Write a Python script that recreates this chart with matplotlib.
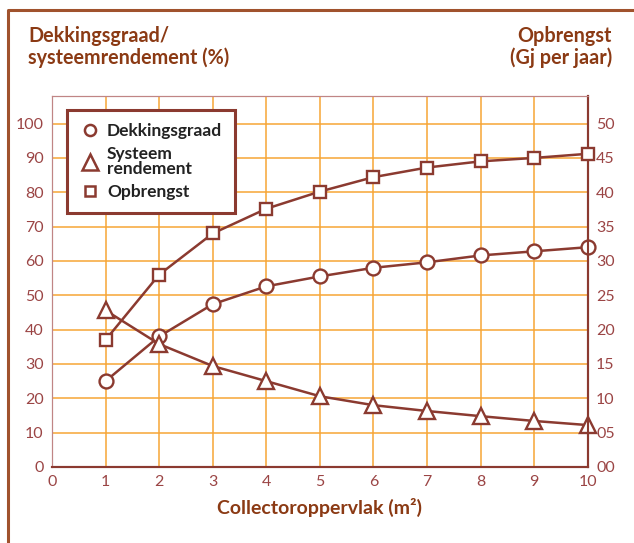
import matplotlib.pyplot as plt
from matplotlib.lines import Line2D

# data
oppervlak = [1, 2, 3, 4, 5, 6, 7, 8, 9, 10]
dekkingsgraad = [25, 38, 47.4, 52.6, 55.5, 58, 59.6, 61.6, 62.8, 64]
systeemrendement = [45.6, 35.8, 29.4, 25, 20.6, 18, 16.3, 14.8, 13.4, 12.2]
opbrengst = [18.5, 28, 34, 37.6, 40.1, 42.2, 43.6, 44.5, 45, 45.6]

left_ticks = [0, 10, 20, 30, 40, 50, 60, 70, 80, 90, 100]
right_ticks = [0, 5, 10, 15, 20, 25, 30, 35, 40, 45, 50]
right_labels = ['00', '05', '10', '15', '20', '25', '30', '35', '40', '45', '50']

line_col = '#8B3A30'
tick_col = '#9B4545'
title_col = '#8B3A14'
grid_col = '#F7A535'

plt.rcParams['font.family'] = ['Lato', 'DejaVu Sans']

fig = plt.figure(figsize=(6.34, 5.43), dpi=100)
ax = fig.add_axes([0.082, 0.140, 0.845, 0.683])
ax2 = ax.twinx()

ax.set_xlim(0, 10)
ax.set_ylim(0, 108)
ax2.set_ylim(0, 54)

# grid
for x in range(1, 10):
    ax.axvline(x, color=grid_col, lw=1.1, zorder=0)
for y in left_ticks[1:]:
    ax.axhline(y, color=grid_col, lw=1.1, zorder=0)

mk = dict(color=line_col, lw=1.8, markerfacecolor='white', markeredgecolor=line_col,
          markeredgewidth=1.7, markersize=10, clip_on=False)
ax.plot(oppervlak, dekkingsgraad, marker='o', zorder=3, **mk)
ax.plot(oppervlak, systeemrendement, marker='^', zorder=3, **{**mk, 'markersize': 11})
ax2.plot(oppervlak, opbrengst, marker='s', zorder=3, **{**mk, 'markersize': 9})

ax.set_xticks(range(0, 11))
ax.set_yticks(left_ticks)
ax2.set_yticks(right_ticks)
ax2.set_yticklabels(right_labels)
ax.tick_params(length=0, colors=tick_col, labelsize=11.5, pad=6)
ax2.tick_params(length=0, colors=tick_col, labelsize=11.5, pad=6)

for a in (ax, ax2):
    a.spines['left'].set_color('#C08585')
    a.spines['top'].set_color('#C08585')
    a.spines['bottom'].set_color(line_col)
    a.spines['right'].set_color(line_col)
    a.spines['bottom'].set_linewidth(1.5)
    a.spines['right'].set_linewidth(1.5)

ax.set_xlabel('Collectoroppervlak (m²)', fontsize=14, fontweight='bold',
              color=title_col, labelpad=6)

fig.text(0.044, 0.875, 'Dekkingsgraad/\nsysteemrendement (%)', fontsize=14.2,
         fontweight='bold', color=title_col, va='bottom', ha='left', linespacing=1.05)
fig.text(0.965, 0.875, 'Opbrengst\n(Gj per jaar)', fontsize=14.2,
         fontweight='bold', color=title_col, va='bottom', ha='right',
         multialignment='right', linespacing=1.05)

# legend
handles = [
    Line2D([], [], ls='none', marker='o', markerfacecolor='white', markeredgecolor=line_col,
           markeredgewidth=1.8, markersize=8),
    Line2D([], [], ls='none', marker='^', markerfacecolor='white', markeredgecolor=line_col,
           markeredgewidth=1.8, markersize=11),
    Line2D([], [], ls='none', marker='s', markerfacecolor='white', markeredgecolor=line_col,
           markeredgewidth=1.8, markersize=7),
]
leg = ax2.legend(handles, ['Dekkingsgraad', 'Systeem\nrendement', 'Opbrengst'],
                 loc='upper left', bbox_to_anchor=(0.028, 0.962), borderaxespad=0,
                 frameon=True, fancybox=False, framealpha=1, edgecolor=line_col,
                 prop={'weight': 'bold', 'size': 12.5}, handletextpad=0.45,
                 labelspacing=0.4, borderpad=0.75, handlelength=1.1)
leg.get_frame().set_linewidth(2.2)
for t in leg.get_texts():
    t.set_color('#222222')
    t.set_linespacing(0.9)

# outer frame (top and left border)
fig.add_artist(Line2D([0.013, 0.013, 1.0], [0.0, 0.982, 0.982],
                      transform=fig.transFigure, color='#A0522D', lw=2.2))

fig.savefig('out.png', dpi=100)
